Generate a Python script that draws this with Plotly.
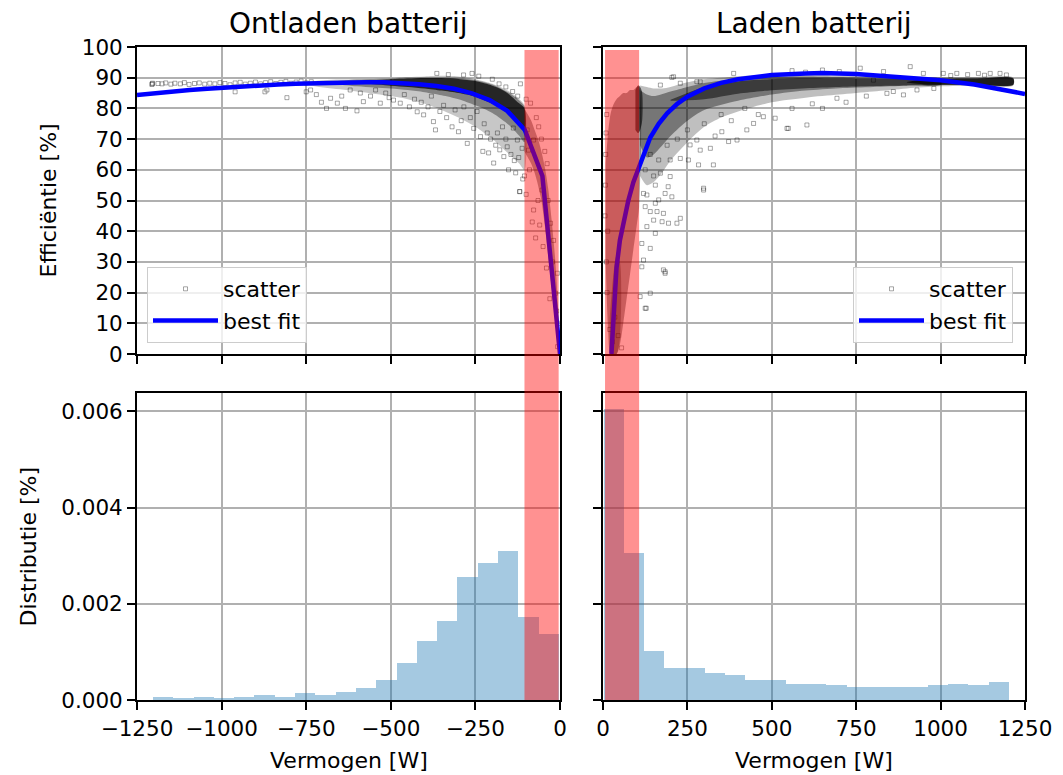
import plotly.graph_objects as go
from plotly.subplots import make_subplots

# ---------------- data ----------------
# best-fit curves
fit_left_x = [-1250, -1198, -1146, -1094, -1042, -990, -938, -885, -833, -781, -729, -677,
              -625, -573, -521, -469, -417, -365, -313, -260, -208, -156, -104, -52, 0]
fit_left_y = [84.4, 85.0, 85.5, 86.0, 86.4, 86.8, 87.1, 87.5, 87.8, 88.0, 88.2, 88.4,
              88.5, 88.5, 88.5, 88.3, 87.9, 87.3, 86.4, 84.9, 82.7, 79.2, 73.0, 58.0, 0.0]
fit_right_x = [25, 30, 35, 40, 50, 60, 75, 90, 108, 125, 140, 165, 190, 220, 250, 300, 350,
               400, 500, 600, 650, 750, 850, 1000, 1100, 1200, 1250]
fit_right_y = [0.0, 9.0, 19.0, 28.0, 37.0, 43.0, 50.0, 56.0, 61.0, 66.0, 70.5, 75.0, 78.4,
               81.5, 83.8, 86.5, 88.3, 89.5, 90.9, 91.4, 91.5, 91.2, 90.5, 89.2, 87.8, 85.8, 84.7]

# dense parts of the scatter clouds (envelopes of the dark regions, outer -> inner)
left_outer_x = [-780, -700, -650, -600, -550, -500, -450, -400, -350, -300, -250, -200, -150, -120, -105]
left_outer_up = [88.3, 89.2, 89.4, 89.5, 89.6, 89.8, 90.2, 90.4, 90.6, 90.4, 89.5, 88.0, 85.5, 83.0, 81.0]
left_outer_lo = [88.0, 86.8, 86.2, 85.5, 84.8, 84.0, 83.0, 81.5, 79.5, 77.0, 74.0, 70.0, 65.0, 62.0, 60.0]
left_mid_x = [-700, -600, -550, -500, -450, -400, -350, -300, -250, -200, -150, -120, -105]
left_mid_up = [88.5, 89.4, 89.5, 89.6, 89.8, 90.0, 90.0, 89.8, 89.2, 87.8, 85.0, 82.5, 80.5]
left_mid_lo = [88.3, 87.2, 86.8, 86.5, 86.0, 85.3, 84.3, 83.0, 81.0, 78.5, 74.5, 71.0, 69.0]
left_core_x = [-620, -500, -450, -400, -350, -300, -250, -200, -175, -150, -125, -105]
left_core_up = [88.7, 89.5, 89.7, 89.9, 89.9, 89.6, 88.9, 87.4, 86.3, 84.5, 82.0, 80.0]
left_core_lo = [88.5, 87.4, 87.0, 86.5, 85.8, 85.0, 83.8, 81.5, 80.0, 78.0, 75.0, 72.5]
left_low_x = [-105, -95, -85, -75, -65, -55, -45, -35, -25, -15, -8, -2]
left_low_up = [80, 78, 76, 73, 70, 66, 61, 54, 44, 32, 20, 6]
left_low_lo = [66, 64, 62, 59, 55, 50, 42, 32, 22, 12, 4, 0]

right_outer_x = [110, 130, 150, 175, 200, 250, 300, 350, 400, 500, 600, 700, 800, 900, 1000, 1100, 1215]
right_outer_up = [87.5, 87.0, 86.5, 86.5, 87.0, 88.5, 89.5, 90.0, 90.5, 91.0, 91.0, 90.8, 90.6, 90.4, 90.2, 90.2, 90.0]
right_outer_lo = [58.0, 55.0, 56.0, 59.0, 63.0, 69.0, 74.0, 77.0, 79.0, 82.0, 83.5, 84.5, 85.5, 86.5, 87.2, 87.4, 87.5]
right_mid_x = [110, 130, 150, 200, 250, 300, 400, 500, 600, 700, 800, 900, 1000, 1100, 1215]
right_mid_up = [86.0, 84.5, 84.0, 85.5, 87.0, 88.3, 89.6, 90.2, 90.4, 90.2, 90.0, 89.9, 89.8, 89.8, 89.8]
right_mid_lo = [68.0, 64.0, 65.0, 71.0, 76.0, 79.5, 82.5, 84.5, 85.8, 86.6, 87.0, 87.4, 87.6, 87.6, 87.6]
right_core_x = [200, 300, 400, 500, 600, 700, 800, 900, 1000]
right_core_up = [82.8, 87.0, 88.8, 89.5, 89.8, 89.7, 89.6, 89.6, 89.6]
right_core_lo = [82.5, 83.0, 84.8, 85.9, 86.6, 87.0, 87.3, 87.5, 87.7]
right_tail_x = [900, 950, 1000, 1100, 1215]
right_tail_up = [88.6, 89.4, 89.6, 89.7, 89.7]
right_tail_lo = [88.4, 87.8, 87.7, 87.7, 87.7]
right_stripe_x = [96, 104, 110, 116]
right_stripe_up = [86.0, 87.5, 87.0, 85.0]
right_stripe_lo = [73.0, 72.0, 73.0, 76.0]
right_low_x = [8, 15, 22, 30, 40, 50, 60, 70, 80, 90, 100, 107]
right_low_up = [62, 72, 78, 81, 83, 84, 85, 85, 86, 86, 87, 87]
right_low_lo = [30, 8, 0, 0, 0, 3, 10, 18, 26, 34, 42, 48]
right_foot_x = [20, 30, 40, 50]
right_foot_up = [12, 25, 32, 30]
right_foot_lo = [0, 0, 0, 5]

# individual (sparse) scatter points
left_pts_x = [-1205, -1204, -1206, -1188, -1176, -1165, -1150, -1138, -1122, -1110, -1096, -1080,
              -1066, -1050, -1035, -1020, -1005, -990, -975, -960, -945, -930, -915, -900, -885,
              -870, -855, -840, -825, -810, -795, -780, -765, -750, -735,
              -960, -872, -866, -807, -750, -737, -720, -705, -690, -678, -658, -645, -634, -620,
              -600, -590, -581, -560, -545, -531, -515, -505, -492, -472, -460, -445, -430, -422,
              -410, -403, -390, -380, -374, -368, -355, -344, -335, -319, -310, -300, -292, -284,
              -274, -265, -255, -245, -235, -228, -224, -215, -211, -205, -196, -190, -185, -178,
              -170, -166, -160, -156, -152, -145, -138, -135, -131, -126, -122, -119, -119, -117,
              -112, -110,
              -364, -330, -285, -260, -240, -200, -160, -125, -140, -180,
              -100, -87, -97, -93, -78, -63, -70, -55, -38, -45, -53, -78, -82, -72, -65, -60,
              -28, -19, -35, -22, -8, -13, -4, -7, -10, -30, -40, -50, -90, -100, -105]
left_pts_y = [88.0, 88.2, 87.8, 88.1, 88.0, 88.3, 87.9, 88.2, 88.0, 88.4, 87.8, 88.1,
              88.3, 87.9, 88.2, 88.0, 88.4, 88.1, 87.7, 88.3, 88.5, 87.9, 88.2, 88.6, 88.0,
              88.4, 88.7, 88.1, 88.5, 88.8, 88.2, 88.6, 88.9, 88.3, 88.7,
              85.4, 85.4, 86.0, 83.5, 85.4, 86.0, 84.5, 82.0, 80.0, 83.3, 81.7, 84.0, 80.0, 86.0,
              79.2, 85.0, 82.2, 84.0, 86.0, 81.7, 85.0, 83.5, 82.7, 81.7, 84.5, 80.5, 83.0, 78.9,
              82.0, 77.9, 80.5, 84.0, 75.7, 73.0, 79.0, 81.0, 77.0, 74.0, 79.5, 72.4, 76.0, 80.5,
              68.6, 77.0, 73.5, 79.0, 70.8, 66.0, 75.0, 72.0, 65.5, 70.0, 62.2, 68.0, 72.0, 66.5,
              74.0, 64.3, 70.0, 67.5, 60.0, 65.0, 73.6, 63.0, 59.0, 69.7, 64.0, 52.9, 52.9, 88.0,
              67.0, 57.0,
              91.4, 91.0, 90.9, 91.4, 90.5, 89.5, 87.0, 84.0, 85.5, 88.0,
              83.0, 81.7, 73.0, 66.4, 69.7, 74.0, 77.0, 70.0, 62.0, 66.0, 53.4, 46.9, 43.0, 37.8, 50.0, 42.0,
              42.6, 37.0, 50.0, 30.0, 26.3, 19.8, 10.0, 2.4, 14.0, 18.0, 28.0, 35.0, 60.0, 52.0, 58.0]

right_pts_x = [8, 6, 10, 7, 12, 9, 14, 11, 20, 28, 35, 45, 55,
               949, 1008, 1048, 1112, 1147, 1176, 1080, 1130, 1195, 1030, 910, 831, 762, 700,
               650, 600, 560, 387, 209, 229, 288, 170, 204, 278, 801,
               545, 604, 475, 510, 693, 841, 890, 549, 446, 426, 397, 372, 352, 332, 318, 288,
               278, 258, 229, 253, 283, 327, 298, 298, 199, 165, 170, 199, 155, 130, 184, 193,
               204, 165, 155, 120, 125, 140, 160, 179, 229, 219, 194, 175, 150, 130, 155, 115,
               140, 184, 179, 120, 115, 140, 128, 110, 184, 125,
               650, 720, 780, 860, 930, 980, 560, 620, 420, 460, 350, 380, 300, 250, 220, 190,
               140, 125, 150]
right_pts_y = [65, 45, 30, 55, 20, 72, 40, 78, 8, 4, 12, 6, 2,
               91.4, 91.4, 91.4, 91.4, 91.4, 91.4, 91.0, 90.8, 90.9, 90.7, 93.6, 92.0, 93.1, 92.0,
               92.5, 91.8, 92.3, 91.4, 90.3, 88.2, 88.7, 87.6, 90.1, 88.7, 89.2,
               73.5, 74.6, 77.3, 76.8, 83.3, 84.9, 84.4, 73.5, 75.1, 73.0, 69.7, 69.2, 72.4, 71.0, 67.0, 66.4,
               69.7, 68.1, 63.7, 63.2, 61.6, 61.6, 54.0, 53.4, 63.2, 63.2, 58.9, 57.8, 55.0, 51.8, 52.3, 54.5,
               51.2, 50.2, 49.1, 52.3, 48.0, 46.4, 46.4, 45.8, 44.2, 42.6, 42.6, 43.1, 43.6, 41.5, 39.3, 36.0,
               34.4, 26.8, 27.4, 30.6, 28.4, 19.8, 14.9, 18.7, 26.3, 14.9,
               80.0, 82.0, 84.0, 85.5, 86.0, 86.5, 80.0, 81.5, 80.0, 78.0, 78.0, 76.0, 75.0, 73.0, 70.0, 68.0,
               65.0, 60.0, 58.0]

# histograms (bin edges and densities)
hist_left_edges = [-1203, -1143, -1083, -1023, -963, -903, -843, -783, -723, -663, -603,
                   -543, -483, -423, -363, -303, -243, -183, -123, -63, -3]
hist_left_vals = [0.00007, 0.000035, 0.00007, 0.000035, 0.00007, 0.0001, 0.00007, 0.00014,
                  0.0001, 0.00017, 0.00024, 0.00042, 0.00077, 0.00123, 0.00165, 0.00256,
                  0.00285, 0.00309, 0.00172, 0.00137]
hist_right_edges = [2, 62, 122, 182, 242, 302, 362, 422, 482, 542, 602, 662, 722, 782,
                    842, 902, 962, 1022, 1082, 1142, 1202]
hist_right_vals = [0.00605, 0.00305, 0.00101, 0.00067, 0.00067, 0.00056, 0.00052, 0.00042,
                   0.00042, 0.00034, 0.00034, 0.00031, 0.00028, 0.00028, 0.00028, 0.00028,
                   0.00031, 0.00034, 0.00031, 0.00038]

# highlighted low-power ranges
band_left = [-105, -4]
band_right = [6, 107]

# axis ticks
x_left_ticks = [-1250, -1000, -750, -500, -250, 0]
x_right_ticks = [0, 250, 500, 750, 1000, 1250]
eff_ticks = [0, 10, 20, 30, 40, 50, 60, 70, 80, 90, 100]
dist_ticks = [0.0, 0.002, 0.004, 0.006]

# ---------------- figure ----------------
W, H = 1063, 775
ML, MR, MT, MB = 137, 38, 47, 75
PW, PH = W - ML - MR, H - MT - MB


def px_x(p):
    return (p - ML) / PW


def px_y(p):
    return (H - MB - p) / PH


FONT = "DejaVu Sans"
TICK = 21.5

fig = make_subplots(rows=2, cols=2)


def band(xs, up, lo, color, row, col):
    fig.add_trace(go.Scatter(x=list(xs) + list(xs)[::-1], y=list(up) + list(lo)[::-1],
                             fill="toself", fillcolor=color, mode="lines",
                             line=dict(width=0, shape="spline", smoothing=0.8),
                             showlegend=False, hoverinfo="skip"),
                  row=row, col=col)


marker = dict(symbol="square-open", size=4, color="rgba(0,0,0,0.35)", line=dict(width=1))

# top-left
band(left_outer_x, left_outer_up, left_outer_lo, "rgba(0,0,0,0.22)", 1, 1)
band(left_mid_x, left_mid_up, left_mid_lo, "rgba(0,0,0,0.35)", 1, 1)
band(left_core_x, left_core_up, left_core_lo, "rgba(0,0,0,0.7)", 1, 1)
band(left_low_x, left_low_up, left_low_lo, "rgba(0,0,0,0.35)", 1, 1)
fig.add_trace(go.Scatter(x=left_pts_x, y=left_pts_y, mode="markers", marker=marker,
                         name="scatter", legend="legend"), row=1, col=1)
fig.add_trace(go.Scatter(x=fit_left_x, y=fit_left_y, mode="lines",
                         line=dict(color="#0000ff", width=4.5), name="best fit",
                         legend="legend"), row=1, col=1)

# top-right
band(right_outer_x, right_outer_up, right_outer_lo, "rgba(0,0,0,0.25)", 1, 2)
band(right_mid_x, right_mid_up, right_mid_lo, "rgba(0,0,0,0.38)", 1, 2)
band(right_core_x, right_core_up, right_core_lo, "rgba(0,0,0,0.5)", 1, 2)
band(right_tail_x, right_tail_up, right_tail_lo, "rgba(0,0,0,0.75)", 1, 2)
band(right_stripe_x, right_stripe_up, right_stripe_lo, "rgba(0,0,0,0.6)", 1, 2)
band(right_low_x, right_low_up, right_low_lo, "rgba(0,0,0,0.36)", 1, 2)
band(right_foot_x, right_foot_up, right_foot_lo, "rgba(0,0,0,0.3)", 1, 2)
fig.add_trace(go.Scatter(x=right_pts_x, y=right_pts_y, mode="markers", marker=marker,
                         name="scatter", legend="legend2"), row=1, col=2)
fig.add_trace(go.Scatter(x=fit_right_x, y=fit_right_y, mode="lines",
                         line=dict(color="#0000ff", width=4.5), name="best fit",
                         legend="legend2"), row=1, col=2)


def hist(edges, vals, row, col):
    centers = [(a + b) / 2 for a, b in zip(edges[:-1], edges[1:])]
    widths = [b - a for a, b in zip(edges[:-1], edges[1:])]
    fig.add_trace(go.Bar(x=centers, y=vals, width=widths,
                         marker=dict(color="rgba(31,119,180,0.4)", line=dict(width=0)),
                         showlegend=False, hoverinfo="skip"), row=row, col=col)


hist(hist_left_edges, hist_left_vals, 2, 1)
hist(hist_right_edges, hist_right_vals, 2, 2)

dom_xl = [px_x(137), px_x(560)]
dom_xr = [px_x(603), px_x(1025)]
dom_yt = [px_y(354), px_y(47)]
dom_yb = [px_y(700), px_y(393)]

axis_common = dict(showline=True, linecolor="black", linewidth=1.8, mirror=True,
                   ticks="outside", ticklen=8, tickwidth=1.8, tickcolor="black",
                   showgrid=True, gridcolor="#b0b0b0", gridwidth=1.8, zeroline=False,
                   tickfont=dict(family=FONT, size=TICK, color="black"))

fig.update_layout(
    xaxis=dict(axis_common, domain=dom_xl, range=[-1250, 0], tickvals=x_left_ticks, showticklabels=False),
    xaxis2=dict(axis_common, domain=dom_xr, range=[0, 1250], tickvals=x_right_ticks, showticklabels=False),
    xaxis3=dict(axis_common, domain=dom_xl, range=[-1250, 0], tickvals=x_left_ticks,
                ticktext=[str(v).replace("-", "\u2212") for v in x_left_ticks]),
    xaxis4=dict(axis_common, domain=dom_xr, range=[0, 1250], tickvals=x_right_ticks),
    yaxis=dict(axis_common, domain=dom_yt, range=[0, 100], tickvals=eff_ticks),
    yaxis2=dict(axis_common, domain=dom_yt, range=[0, 100], tickvals=eff_ticks, showticklabels=False),
    yaxis3=dict(axis_common, domain=dom_yb, range=[0, 0.00638], tickvals=dist_ticks, tickformat=".3f"),
    yaxis4=dict(axis_common, domain=dom_yb, range=[0, 0.00638], tickvals=dist_ticks, showticklabels=False),
)

# highlighted ranges spanning both rows
y_top_band = dom_yt[0] + 0.99 * (dom_yt[1] - dom_yt[0])
for xref, (a, b) in (("x", band_left), ("x2", band_right)):
    fig.add_shape(type="rect", xref=xref, yref="paper", x0=a, x1=b, y0=0, y1=y_top_band,
                  fillcolor="rgba(255,0,0,0.43)", line=dict(width=0), layer="above")

ann_font = dict(family=FONT, size=22, color="black")
annotations = [
    dict(text="Ontladen batterij", x=px_x(348.5), y=px_y(23), font=dict(family=FONT, size=28, color="black")),
    dict(text="Laden batterij", x=px_x(814), y=px_y(23), font=dict(family=FONT, size=28, color="black")),
    dict(text="Efficiëntie [%]", x=px_x(48), y=px_y(200.5), textangle=-90, font=ann_font),
    dict(text="Distributie [%]", x=px_x(28), y=px_y(546.5), textangle=-90, font=ann_font),
    dict(text="Vermogen [W]", x=px_x(348.5), y=px_y(760), font=ann_font),
    dict(text="Vermogen [W]", x=px_x(814), y=px_y(760), font=ann_font),
]
for a in annotations:
    a.update(xref="paper", yref="paper", showarrow=False, xanchor="center", yanchor="middle")

legend_common = dict(bgcolor="rgba(255,255,255,0.8)", bordercolor="#cccccc", borderwidth=1,
                     font=dict(family=FONT, size=22, color="black"), itemwidth=65,
                     tracegroupgap=0, yanchor="bottom", y=px_y(343))

fig.update_layout(
    width=W, height=H,
    margin=dict(l=ML, r=MR, t=MT, b=MB, pad=0),
    paper_bgcolor="white", plot_bgcolor="white",
    font=dict(family=FONT, color="black"),
    annotations=annotations,
    bargap=0,
    legend=dict(legend_common, x=px_x(147), xanchor="left"),
    legend2=dict(legend_common, x=px_x(1013), xanchor="right"),
)

fig.write_html("out.html", config={"displayModeBar": False},
               post_script="document.body.style.margin='0px';")
